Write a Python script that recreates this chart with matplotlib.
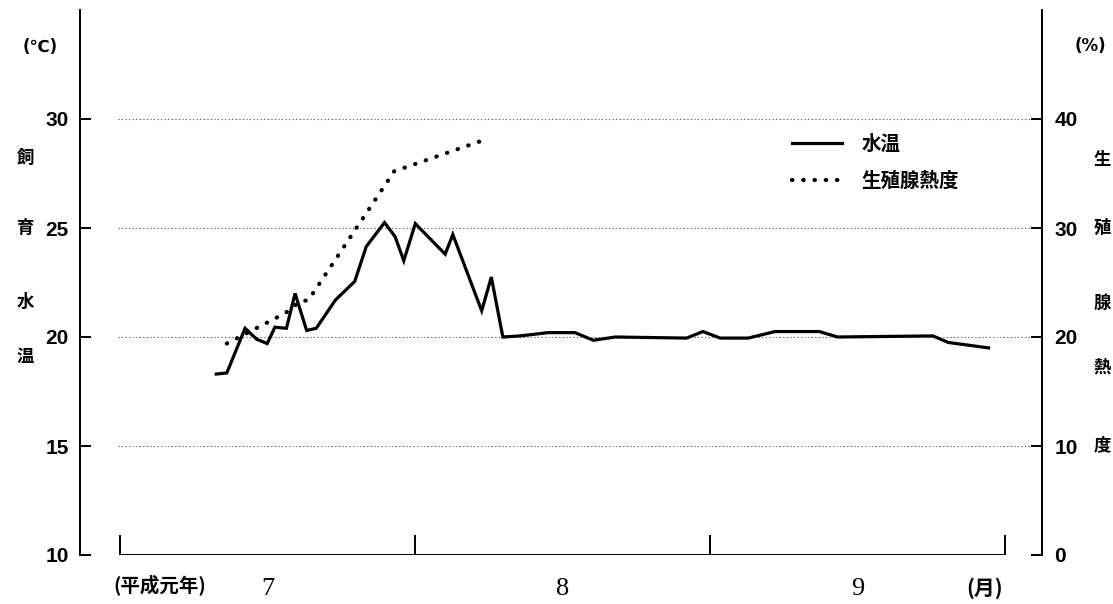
import matplotlib.pyplot as plt

plt.rcParams['font.family'] = ['Noto Sans CJK JP', 'DejaVu Sans']

# 7/1 を 0 とした経過日数
temp_day = [10.0, 11.1, 13.0, 14.2, 15.3, 16.1, 17.3, 18.2, 19.4, 20.4, 22.4, 24.4,
            25.6, 27.5, 28.6, 29.5, 30.7, 33.8, 34.6, 37.6, 38.6, 39.8, 41.6, 44.5,
            47.3, 49.2, 51.5, 58.9, 60.6, 62.4, 65.3, 68.1, 72.7, 74.6, 84.5, 86.1, 90.3]
temp_val = [18.3, 18.35, 20.4, 19.9, 19.7, 20.45, 20.4, 22.0, 20.3, 20.4, 21.7, 22.55,
            24.15, 25.25, 24.6, 23.5, 25.2, 23.8, 24.7, 21.2, 22.75, 20.0, 20.05, 20.2,
            20.2, 19.85, 20.0, 19.95, 20.25, 19.95, 19.95, 20.25, 20.25, 20.0, 20.05, 19.75, 19.5]

gsi_day = [11.1, 17.2, 18.6, 19.6, 28.5, 37.6]
gsi_val = [19.4, 22.2, 23.2, 23.4, 35.2, 38.0]

month_edges = [0, 30.7, 61.3, 92]
month_labels = ['7', '8', '9']

fig = plt.figure(figsize=(11.13, 6.04), dpi=100)
ax = fig.add_axes([80/1113, 1-555/604, 962/1113, 545/604])
ax2 = ax.twinx()

ax.set_xlim(-4.16, 95.85)
ax.set_ylim(10, 35)
ax2.set_ylim(0, 50)

# 補助線
ax.hlines([15, 20, 25, 30], -0.2, 94.6, colors='#444444', linestyles=(0, (1, 2.2)), lw=0.8)

# 月の区切り
ax.hlines(10, month_edges[0], month_edges[-1], colors='black', lw=1.4)
ax.vlines(month_edges, 10, 10.9, colors='black', lw=1.4)

l1, = ax.plot(temp_day, temp_val, color='black', lw=2.3, solid_joinstyle='miter', label='水温')
l2, = ax2.plot(gsi_day, gsi_val, color='black', lw=3.0, linestyle=(0, (0.1, 2.6)),
               dash_capstyle='round', label='生殖腺熱度')

for a in (ax, ax2):
    a.spines['top'].set_visible(False)
    a.spines['bottom'].set_visible(False)
    a.spines['left'].set_linewidth(1.4)
    a.spines['right'].set_linewidth(1.4)
ax.spines['right'].set_visible(False)
ax2.spines['left'].set_visible(False)
ax.set_xticks([])

ax.set_yticks([10, 15, 20, 25, 30])
ax2.set_yticks([0, 10, 20, 30, 40])
ax.tick_params(axis='y', direction='in', length=8, width=1.4, pad=8, labelsize=15)
ax2.tick_params(axis='y', direction='in', length=8, width=1.4, pad=9, labelsize=15)
for lab in ax.get_yticklabels() + ax2.get_yticklabels():
    lab.set_fontfamily(['Liberation Sans', 'DejaVu Sans'])
    lab.set_fontweight('bold')

# 軸ラベル(縦書き)
for ch, y in zip('飼育水温', [158, 228, 302, 357]):
    fig.text(25/1113, 1-y/604, ch, ha='center', va='center', fontsize=12.5, fontweight='bold')
for ch, y in zip('生殖腺熱度', [160, 228, 303, 368, 445]):
    fig.text(1102/1113, 1-y/604, ch, ha='center', va='center', fontsize=12.5, fontweight='bold')
fig.text(40/1113, 1-47/604, '(℃)', ha='center', va='center', fontsize=12, fontweight='bold',
         family=['DejaVu Sans'])
fig.text(1090/1113, 1-46/604, '(%)', ha='center', va='center', fontsize=12, fontweight='bold',
         family=['DejaVu Sans'])

# 月ラベル
for i, m in enumerate(month_labels):
    ax.text((month_edges[i] + month_edges[i+1]) / 2, 8.45, m, ha='center', va='center',
            fontsize=19, family=['Liberation Serif'])
fig.text(160/1113, 1-586/604, '(平成元年)', ha='center', va='center', fontsize=14, fontweight='bold')
fig.text(985/1113, 1-588/604, '(月)', ha='center', va='center', fontsize=15, fontweight='bold')

ax.legend(handles=[l1, l2], loc='upper left', bbox_to_anchor=(0.74, 0.772), frameon=False,
          borderpad=0, borderaxespad=0, handlelength=2.6, handletextpad=1.0, labelspacing=0.95,
          prop={'size': 14, 'weight': 'bold'})

fig.savefig('out.png', dpi=100)
